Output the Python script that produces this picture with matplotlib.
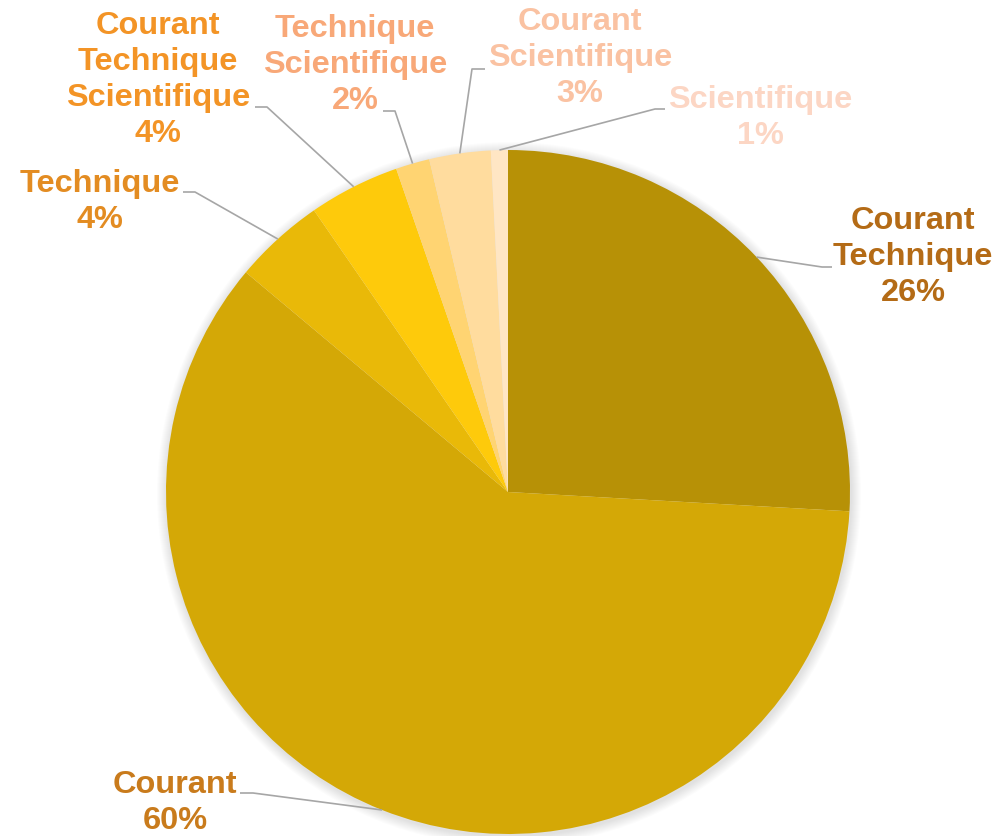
import matplotlib
matplotlib.use("Agg")
import matplotlib.pyplot as plt
from matplotlib.patches import Circle
import numpy as np

# ---- data ----
categories = ["Courant\nTechnique", "Courant", "Technique", "Courant\nTechnique\nScientifique",
              "Technique\nScientifique", "Courant\nScientifique", "Scientifique"]
values = [25.9, 60.2, 4.3, 4.3, 1.6, 2.9, 0.8]
slice_colors = ["#B79106", "#D4A806", "#E9B908", "#FECA0B", "#FFD472", "#FFDC9E", "#FFE6C4"]
label_colors = ["#B46B16", "#C97B1C", "#E38C22", "#F39426", "#F8A878", "#FAC2A2", "#FCD6C4"]

# ---- layout (pixel space, y up) ----
W, H = 999, 837
cx, cy, R = 508, H - 493, 342
text_pos = [(913, 257), (175, 803), (100, 202), (158, 80), (355, 65), (580, 58), (760, 118)]
elbow = [((822, 268), (832, 268)), ((253, 794), (240, 794)), ((195, 193), (183, 193)),
         ((267, 108), (255, 108)), ((395, 112), (383, 112)), ((472, 70), (485, 70)),
         ((655, 110), (665, 110))]

fig = plt.figure(figsize=(W / 100, H / 100), dpi=100)
ax = fig.add_axes([0, 0, 1, 1])
ax.set_xlim(0, W)
ax.set_ylim(0, H)
ax.set_aspect("equal")
ax.axis("off")

# soft shadow
for i in range(10):
    ax.add_patch(Circle((cx + 1, cy - 2), R + 10 - i, color="#000000", alpha=0.012, lw=0, zorder=0))

wedges, _ = ax.pie(values, colors=slice_colors, startangle=90, counterclock=False,
                   center=(cx, cy), radius=R, frame=True,
                   wedgeprops=dict(linewidth=0))
ax.set_xlim(0, W)
ax.set_ylim(0, H)
ax.axis("off")

for w, lab, v, col, tp, (e1, e2) in zip(wedges, categories, values, label_colors, text_pos, elbow):
    mid = np.deg2rad((w.theta1 + w.theta2) / 2)
    ax_pt = (cx + R * np.cos(mid), cy + R * np.sin(mid))
    xs = [ax_pt[0], e1[0], e2[0]]
    ys = [ax_pt[1], H - e1[1], H - e2[1]]
    ax.plot(xs, ys, color="#A6A6A6", lw=1.2, zorder=3, solid_capstyle="butt")
    ax.text(tp[0], H - tp[1], f"{lab}\n{v:.0f}%", ha="center", va="center",
            fontsize=23.4, fontweight="bold", family="Liberation Sans",
            color=col, linespacing=1.25, zorder=4)

fig.savefig("out.png", dpi=100)
